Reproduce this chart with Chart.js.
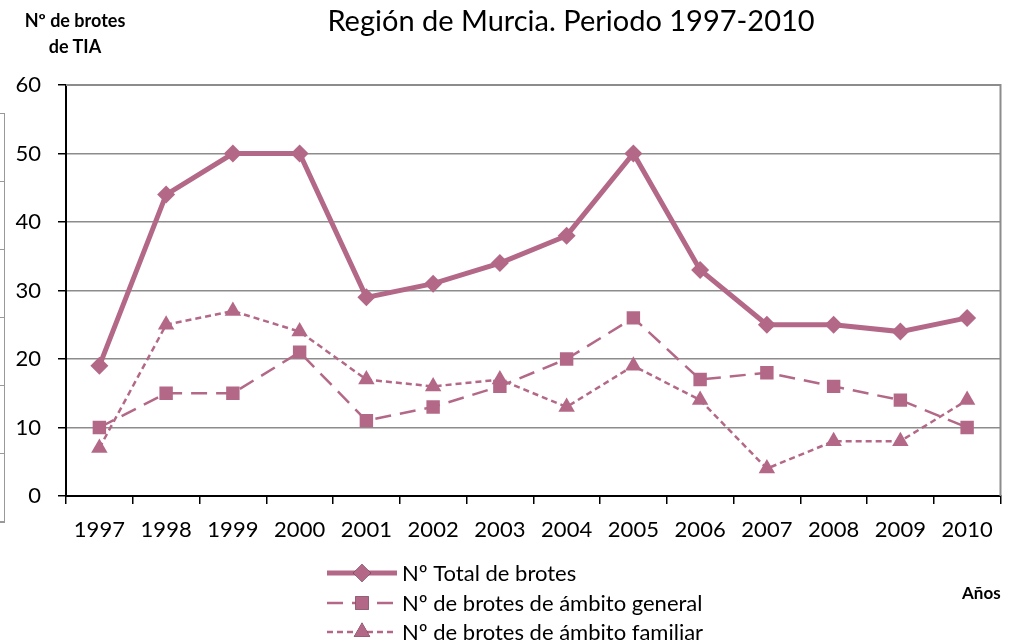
<!DOCTYPE html>
<html>
<head>
<meta charset="utf-8">
<script src="https://cdn.jsdelivr.net/npm/chart.js@4"></script>
<style>
  body { margin: 0; background: #fff; font-family: Lato, "Liberation Sans", sans-serif; }
  #wrap { position: relative; width: 1010px; height: 642px; overflow: hidden; }
  canvas { position: absolute; left: 0; top: 0; }
  .lbl { position: absolute; color: #000; white-space: nowrap; }
  #title { left: 0; width: 1142px; top: 2px; text-align: center; font-size: 29px; }
  #ylab { left: 75px; transform: translateX(-50%); top: 7px; font-size: 18px; font-weight: bold; text-align: center; line-height: 26px; }
  #xlab { left: 962px; top: 582px; font-size: 17px; font-weight: bold; }
  #frag { position: absolute; left: -10px; top: 113px; width: 14px; height: 408px;
    border: 1px solid #999; border-left: none;
    background: repeating-linear-gradient(to bottom, transparent 0, transparent 67px, #999 67px, #999 68px); }
</style>
</head>
<body>
<div id="wrap">
  <div id="frag"></div>
  <canvas id="chart" width="1010" height="642"></canvas>
  <div class="lbl" id="title">Región de Murcia. Periodo 1997-2010</div>
  <div class="lbl" id="ylab">Nº de brotes<br>de TIA</div>
  <div class="lbl" id="xlab">Años</div>
</div>
<script>
const years = ["1997", "1998", "1999", "2000", "2001", "2002", "2003", "2004", "2005", "2006", "2007", "2008", "2009", "2010"];
const totalBrotes = [19, 44, 50, 50, 29, 31, 34, 38, 50, 33, 25, 25, 24, 26];
const generalBrotes = [10, 15, 15, 21, 11, 13, 16, 20, 26, 17, 18, 16, 14, 10];
const familiarBrotes = [7, 25, 27, 24, 17, 16, 17, 13, 19, 14, 4, 8, 8, 14];
const yTicks = [0, 10, 20, 30, 40, 50, 60];

const pink = "rgb(180,104,136)";
const font = "Lato, 'Liberation Sans', sans-serif";

// frame on top and right side of the plot
const frame = {
  id: "frame",
  afterDatasetsDraw(chart) {
    const a = chart.chartArea, c = chart.ctx;
    c.save();
    c.strokeStyle = "#8c8c8c";
    c.lineWidth = 2;
    c.beginPath();
    c.moveTo(a.left, a.top);
    c.lineTo(a.right, a.top);
    c.lineTo(a.right, a.bottom);
    c.stroke();
    c.restore();
  }
};

// legend: line sample + marker + text, stacked rows
const legendRows = {
  id: "legendRows",
  afterDraw(chart) {
    const c = chart.ctx;
    const x0 = 327, x1 = 397, rows = [573, 603, 632];
    chart.data.datasets.forEach((ds, i) => {
      const y = rows[i];
      c.save();
      c.strokeStyle = ds.borderColor;
      c.lineWidth = ds.borderWidth;
      c.setLineDash(ds.borderDash || []);
      c.beginPath();
      c.moveTo(x0, y);
      c.lineTo(x1, y);
      c.stroke();
      c.setLineDash([]);
      Chart.helpers.drawPoint(c, {
        pointStyle: ds.pointStyle, radius: ds.pointRadius, borderWidth: 0
      }, (x0 + x1) / 2, y);
      c.fillStyle = ds.backgroundColor;
      c.fill();
      c.fillStyle = "#000";
      c.font = "22px " + font;
      c.textBaseline = "middle";
      c.fillText(ds.label, 402, y + 1);
      c.restore();
    });
  }
};

new Chart(document.getElementById("chart"), {
  type: "line",
  data: {
    labels: years,
    datasets: [{
      label: "Nº Total de brotes",
      data: totalBrotes,
      borderColor: pink,
      backgroundColor: pink,
      borderWidth: 5,
      pointStyle: "rectRot",
      pointRadius: 9,
      pointBorderWidth: 0,
      tension: 0
    }, {
      label: "Nº de brotes de ámbito general",
      data: generalBrotes,
      borderColor: pink,
      backgroundColor: pink,
      borderWidth: 2.5,
      borderDash: [16, 9],
      pointStyle: "rect",
      pointRadius: 9.5,
      pointBorderWidth: 0,
      tension: 0
    }, {
      label: "Nº de brotes de ámbito familiar",
      data: familiarBrotes,
      borderColor: pink,
      backgroundColor: pink,
      borderWidth: 2.5,
      borderDash: [6, 4],
      pointStyle: "triangle",
      pointRadius: 9.5,
      pointBorderWidth: 0,
      tension: 0
    }]
  },
  options: {
    responsive: false,
    animation: false,
    layout: { padding: { left: 0, top: 85, right: 4, bottom: 0 } },
    plugins: {
      legend: { display: false },
      title: { display: false },
      tooltip: { enabled: false }
    },
    scales: {
      x: {
        offset: true,
        afterFit(scale) { scale.height = 146; },
        grid: {
          offset: true,
          drawOnChartArea: false,
          drawTicks: true,
          tickLength: 8,
          color: "#000",
          lineWidth: 1.5
        },
        border: { color: "#000", width: 2 },
        ticks: { color: "#000", font: { family: font, size: 22 }, padding: 13, maxRotation: 0 }
      },
      y: {
        min: 0,
        max: 60,
        afterFit(scale) { scale.width = 66; },
        afterBuildTicks(scale) { scale.ticks = yTicks.map(v => ({ value: v })); },
        grid: {
          color: ctx => ctx.tick && ctx.tick.value === 0 ? "#000" : "#8c8c8c",
          lineWidth: 1.5,
          tickLength: 8,
          tickColor: "#000",
          drawTicks: true
        },
        border: { color: "#000", width: 2 },
        ticks: { color: "#000", font: { family: font, size: 22 }, padding: 17 }
      }
    }
  },
  plugins: [frame, legendRows]
});
</script>
</body>
</html>
